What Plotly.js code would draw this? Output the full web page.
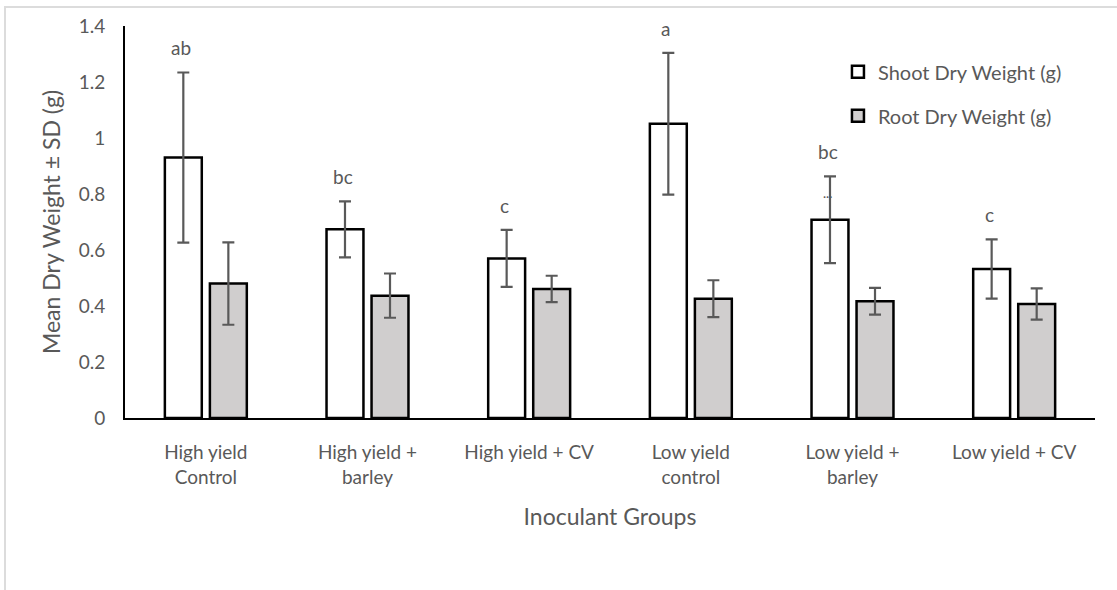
<!DOCTYPE html>
<html>
<head>
<meta charset="utf-8">
<script src="https://cdn.plot.ly/plotly-3.0.1.min.js"></script>
<style>
  html, body { margin: 0; padding: 0; background: #fff; }
  #wrap { position: relative; width: 1117px; height: 590px; }
  #chart { width: 1117px; height: 590px; }
  #frame { position: absolute; left: 4px; top: 6px; width: 1113px; height: 584px;
           border-top: 2px solid #dcdcdc; border-left: 2px solid #dcdcdc; box-sizing: border-box; pointer-events: none; }
</style>
</head>
<body>
<div id="wrap">
  <div id="chart"></div>
  <div id="frame"></div>
</div>
<script>
const categories = ["High yield<br>Control", "High yield +<br>barley", "High yield + CV",
                    "Low yield<br>control", "Low yield +<br>barley", "Low yield + CV"];
const shootMean = [0.93, 0.674, 0.570, 1.051, 0.708, 0.532];
const shootSD   = [0.304, 0.100, 0.102, 0.253, 0.155, 0.106];
const rootMean  = [0.480, 0.437, 0.461, 0.426, 0.417, 0.407];
const rootSD    = [0.147, 0.079, 0.047, 0.066, 0.048, 0.056];
const letters   = ["ab", "bc", "c", "a", "bc", "c"];

const FONT = "Lato, 'Open Sans', sans-serif";
const GREY = "#595959";

const traces = [
  {
    type: "bar", name: "Shoot Dry Weight (g)", x: categories, y: shootMean,
    marker: { color: "#ffffff", line: { color: "#000000", width: 2.5 } },
    error_y: { type: "data", array: shootSD, visible: true, color: GREY, thickness: 2.2, width: 6 },
    legendgroup: "s", hoverinfo: "y"
  },
  {
    type: "bar", name: "Root Dry Weight (g)", x: categories, y: rootMean,
    marker: { color: "#d0cece", line: { color: "#000000", width: 2.5 } },
    error_y: { type: "data", array: rootSD, visible: true, color: GREY, thickness: 2.2, width: 6 },
    legendgroup: "r", hoverinfo: "y"
  }
];

const annotations = categories.map((c, i) => ({
  x: c, y: shootMean[i] + shootSD[i], xref: "x", yref: "y",
  xshift: -25, yshift: 11, yanchor: "bottom", showarrow: false,
  text: letters[i], font: { family: FONT, size: 19, color: GREY }
}));
annotations.push({
  x: categories[4], y: shootMean[4] + shootSD[4], xref: "x", yref: "y",
  xshift: -25, yshift: -20, showarrow: false, text: "···",
  font: { family: FONT, size: 12, color: GREY }
});

const layout = {
  width: 1117, height: 590,
  margin: { l: 125, r: 22, t: 26, b: 172 },
  paper_bgcolor: "#ffffff", plot_bgcolor: "#ffffff",
  barmode: "group", bargap: 0.443, bargroupgap: 0.18,
  font: { family: FONT, color: GREY, size: 18 },
  showlegend: true,
  legend: {
    x: 0.735, y: 0.827, xanchor: "left", yanchor: "middle",
    traceorder: "grouped", tracegroupgap: 15,
    font: { family: FONT, size: 20, color: GREY },
    itemwidth: 30, bgcolor: "rgba(0,0,0,0)"
  },
  xaxis: {
    type: "category", showline: true, linecolor: "#000000", linewidth: 2,
    ticks: "", showgrid: false, zeroline: false, ticklabelstandoff: 16,
    tickfont: { family: FONT, size: 19, color: GREY },
    title: { text: "Inoculant Groups", font: { family: FONT, size: 23, color: GREY }, standoff: 22 }
  },
  yaxis: {
    range: [0, 1.4], dtick: 0.2, showline: true, linecolor: "#000000", linewidth: 2,
    ticks: "", showgrid: false, zeroline: false, ticklabelstandoff: 14,
    tickfont: { family: FONT, size: 19, color: GREY },
    title: { text: "Mean Dry Weight ± SD (g)", font: { family: FONT, size: 23, color: GREY }, standoff: 12 }
  },
  annotations: annotations
};

Plotly.newPlot("chart", traces, layout, { displayModeBar: false, staticPlot: true });
</script>
</body>
</html>
